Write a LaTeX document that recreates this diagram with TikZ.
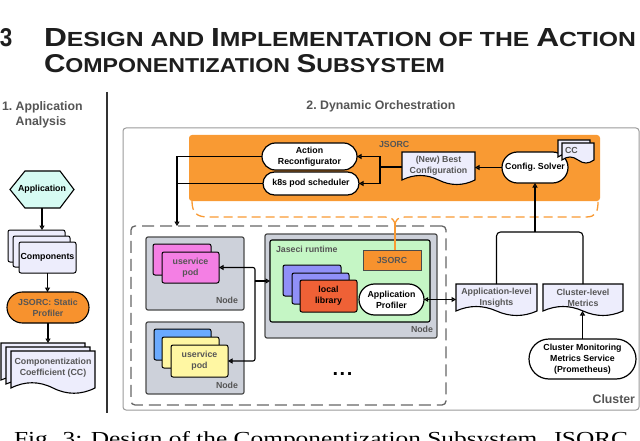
\documentclass[tikz,border=0pt]{standalone}
\usepackage{fontspec}
\setmainfont{Liberation Sans}
\newfontfamily\capfont{Liberation Serif}
\usetikzlibrary{arrows.meta,shapes.misc,calc}
\definecolor{orng}{HTML}{F99A33}
\definecolor{orng2}{HTML}{F7922E}
\definecolor{lav}{HTML}{EDEDFC}
\definecolor{hexfill}{HTML}{D6FBF3}
\definecolor{nodegray}{HTML}{CDD1DA}
\definecolor{nodeline}{HTML}{4A4A4A}
\definecolor{pinkpod}{HTML}{F47FE4}
\definecolor{bluepod}{HTML}{6AAAFF}
\definecolor{yelpod}{HTML}{FFF7A3}
\definecolor{greenrt}{HTML}{C5F6C5}
\definecolor{purplib}{HTML}{9090F8}
\definecolor{redlib}{HTML}{EF6136}
\definecolor{txtgray}{HTML}{555555}
\definecolor{clusterline}{HTML}{9A9A9A}
\definecolor{dashgray}{HTML}{666666}
\definecolor{headc}{HTML}{1E1E1E}
\newcommand\docpath[6]{%
  \path[#1] (#2,#3) -- (#4,#3) -- (#4,#5)
  .. controls ({#4-(#4-#2)/6},{#5+#6}) and ({#4-(#4-#2)/3},{#5+#6}) .. ({(#2+#4)/2},#5)
  .. controls ({#2+(#4-#2)/3},{#5-#6}) and ({#2+(#4-#2)/6},{#5-#6}) .. (#2,#5) -- cycle;}
\newcommand\bigc[1]{{\fontsize{25}{30}\selectfont #1}}
\newcommand\smlc[1]{{\fontsize{19.5}{30}\selectfont #1}}
\begin{document}
\begin{tikzpicture}[x=1pt,y=-1pt,
  every node/.style={inner sep=0pt, outer sep=0pt},
  lbl/.style={font=\bfseries\fontsize{8.8}{11}\selectfont, align=center, text=black},
  glbl/.style={lbl, text=txtgray},
  title/.style={font=\bfseries\fontsize{12.3}{15}\selectfont, text=txtgray},
  stad/.style={rounded rectangle, draw=black, line width=1.2pt, fill=white},
  docst/.style={draw=black, line width=1.1pt, fill=lav},
  stackbox/.style={draw=black, line width=1pt, rounded corners=2pt},
  nodebox/.style={draw=nodeline, fill=nodegray, line width=1.2pt, rounded corners=2pt},
  arr/.style={draw=black, line width=1.1pt, -{Triangle[open,length=4.5pt,width=5pt]}},
  conn/.style={draw=black, line width=1.1pt},
  brace/.style={draw=orng, line width=1.3pt, dash pattern=on 9pt off 5pt},
]
\useasboundingbox (0,0) rectangle (640,441);
\fill[white] (0,0) rectangle (640,441);

% heading
\node[anchor=base west, text=headc, font=\bfseries] (h3) at (0,46.5) {\resizebox{12.5pt}{18pt}{3}};
\node[anchor=base west, text=headc, font=\bfseries] (h1) at (44,46.5) {\resizebox{592pt}{18pt}{\bigc{D}\smlc{ESIGN AND }\bigc{I}\smlc{MPLEMENTATION OF THE }\bigc{A}\smlc{CTION}}};
\node[anchor=base west, text=headc, font=\bfseries] (h2) at (44,73) {\resizebox{401pt}{18pt}{\bigc{C}\smlc{OMPONENTIZATION }\bigc{S}\smlc{UBSYSTEM}}};

% caption (cut by the page edge)
\node[anchor=base west] (cap) at (14,445) {\capfont\resizebox{614pt}{14pt}{Fig. 3: Design of the Componentization Subsystem. JSORC}};

% separator
\draw[line width=1.2pt, draw=black!80] (107,92) -- (107,413);

% ---------- left column ----------
\node[title, anchor=north west, align=left] (t1) at (2,102) {1.\ Application\\\hphantom{1.\ }Analysis};

\draw[fill=hexfill, draw=black, line width=1.1pt] (10,189.5) -- (25,171) -- (60,171) -- (74,189.5) -- (60,208) -- (25,208) -- cycle;
\node[lbl, minimum width=64pt, minimum height=37pt] (app) at (42,189.5) {Application};

\node[stackbox, fill=lav, minimum width=57pt, minimum height=32pt] (compA) at (36.5,246) {};
\node[stackbox, fill=lav, minimum width=57pt, minimum height=31pt] (compB) at (41.5,251.5) {};
\node[stackbox, fill=lav, lbl, minimum width=57pt, minimum height=31pt] (compC) at (47.5,257.5) {Components};

\node[rounded rectangle, draw=black, line width=1.1pt, fill=orng2, glbl, minimum width=82pt, minimum height=31pt] (prof) at (48,307.5) {JSORC: Static\\Profiler};

\docpath{docst}{1}{343}{85}{380}{6}
\docpath{docst}{6}{347}{90}{384}{6}
\docpath{docst}{11}{351}{95}{388}{7}
\node[glbl, minimum width=84pt, minimum height=34pt] (cc) at (53,368) {Componentization\\Coefficient (CC)};
\coordinate (ccA) at (43,343);

\draw[arr] (app.south) -- (app.south |- compA.north);
\draw[arr] (compC.south) -- (compC.south |- prof.north);
\draw[arr] (prof.south) -- (prof.south |- ccA);

% ---------- right part ----------
\node[title, anchor=base] (t2) at (381,110) {2.\ Dynamic Orchestration};

\node[draw=clusterline, line width=1pt, rounded corners=3pt, fill=white, minimum width=516pt, minimum height=282pt] (cluster) at (381,269) {};
\node[title, anchor=base east] (clusterlbl) at (635,403) {Cluster};

\node[fill=orng, rounded corners=3pt, minimum width=411pt, minimum height=66pt] (jsorc) at (394.5,168) {};
\node[glbl, anchor=base west] (jsorclbl) at (379,148) {JSORC};

\node[stad, lbl, minimum width=95pt, minimum height=27pt] (ar) at (309.5,156.5) {Action\\Reconfigurator};
\node[stad, lbl, minimum width=96pt, minimum height=23pt] (k8s) at (311,183.5) {k8s pod scheduler};

\docpath{docst}{402}{152}{475}{180}{6}
\node[glbl, minimum width=73pt, minimum height=28pt] (best) at (438.5,166) {(New) Best\\Configuration};

\node[stad, lbl, minimum width=66pt, minimum height=31pt] (solver) at (535,167.5) {Config.\ Solver};
\docpath{docst}{558}{140}{590}{157}{4}
\docpath{docst}{562}{143}{594}{160}{4}
\node[glbl, anchor=north west] (ccsmall) at (565,147) {CC};

\coordinate (j1) at (380,167);
\draw[conn] (best.west |- j1) -- (j1);
\draw[arr] (j1) |- (ar.east);
\draw[arr] (j1) |- (k8s.east);
\draw[arr] (solver.west) -- (solver.west -| best.east);

% nodes area
\node[draw=dashgray, dash pattern=on 12pt off 6pt, line width=1.3pt, rounded corners=4pt, minimum width=315pt, minimum height=179pt] (nodes) at (288.5,315.5) {};

\coordinate (j2) at (177,183.5);
\draw[conn] (k8s.west) -- (j2);
\draw[arr] (ar.west) -| (j2 |- nodes.north);

% node 1
\node[nodebox, minimum width=98pt, minimum height=73pt] (node1) at (195,273.5) {};
\node[glbl, anchor=base east] (node1lbl) at (238,303.5) {Node};
\node[stackbox, fill=pinkpod, minimum width=58pt, minimum height=31pt] (pinkA) at (182,259.5) {};
\node[stackbox, fill=pinkpod, glbl, minimum width=57pt, minimum height=31pt] (pinkB) at (190.5,267.5) {uservice\\pod};

% node 2
\node[nodebox, minimum width=98pt, minimum height=72pt] (node2) at (195,358) {};
\node[glbl, anchor=base east] (node2lbl) at (238,388.5) {Node};
\node[stackbox, fill=bluepod, minimum width=57pt, minimum height=31pt] (yelA) at (182.5,344.5) {};
\node[stackbox, fill=yelpod, minimum width=57pt, minimum height=31pt] (yelB) at (190.5,352.5) {};
\node[stackbox, fill=yelpod, glbl, minimum width=57pt, minimum height=32pt] (yelC) at (199.5,361) {uservice\\pod};

% node 3
\node[nodebox, minimum width=172pt, minimum height=104pt] (node3) at (351,286) {};
\node[glbl, anchor=base east] (node3lbl) at (433,332.5) {Node};
\node[draw=black, line width=1.1pt, fill=greenrt, rounded corners=2pt, minimum width=160pt, minimum height=82pt] (jaseci) at (350,281) {};
\node[glbl, anchor=base west] (jasecilbl) at (276,252) {Jaseci runtime};
\node[draw=nodeline, line width=1pt, fill=orng2, glbl, minimum width=58pt, minimum height=20pt] (jsorcbox) at (392,260) {JSORC};
\node[stackbox, fill=purplib, minimum width=58pt, minimum height=31pt] (libA) at (312,280.5) {};
\node[stackbox, fill=purplib, minimum width=57pt, minimum height=31pt] (libB) at (320.5,288.5) {};
\node[stackbox, fill=redlib, lbl, minimum width=57pt, minimum height=32pt] (libC) at (328.5,296) {local\\library};
\node[stad, lbl, minimum width=65pt, minimum height=31pt] (appprof) at (391.5,299.5) {Application\\Profiler};

\coordinate (pj) at (255,281);
\draw[arr] (pj) -- (pj -| jaseci.west);
\draw[arr, rounded corners=2pt] (pj) |- (pinkB.east);
\draw[arr, rounded corners=2pt] (pj) |- (yelC.east);

\node[anchor=base] (dots) at (342.5,375) {\bfseries\fontsize{20}{20}\selectfont .\hspace{1.5pt}.\hspace{1.5pt}.};

% orange brace to JSORC inside runtime
\coordinate (br) at (395,226);
\coordinate (bl) at ([xshift=3pt]jsorc.south west);
\coordinate (brr) at ([xshift=-2pt]jsorc.south east);
\draw[brace] (bl) .. controls (192,213) and (197,217) .. (208,217) -- (385,217) .. controls (392,217) and (395,220) .. (br);
\draw[brace] (br) .. controls (395,220) and (398,217) .. (405,217) -- (586,217) .. controls (596,217) and (598,212) .. (brr);
\draw[draw=orng, line width=1.5pt] (br) -- (br |- jsorcbox.north);

% insights / metrics
\docpath{docst}{456}{284}{537}{311}{6}
\node[glbl, minimum width=81pt, minimum height=27pt] (ins) at (496.5,297.5) {Application-level\\Insights};
\docpath{docst}{543}{284}{623}{311}{6}
\node[glbl, minimum width=80pt, minimum height=27pt] (met) at (583,297.5) {Cluster-level\\Metrics};
\node[stad, lbl, minimum width=107pt, minimum height=40pt] (prom) at (582.5,359) {Cluster Monitoring\\Metrics Service\\(Prometheus)};

\draw[arr] (prom.north) -- (prom.north |- met.south);
\coordinate (mj) at (535,232);
\draw[conn, rounded corners=4pt] (ins.north) |- (mj) -| (met.north);
\draw[arr] (mj) -- (solver.south);
\draw[line width=1.1pt, {Triangle[open,length=4pt,width=4.5pt]}-{Triangle[open,length=4.5pt,width=5pt]}] (appprof.east) -- (appprof.east -| ins.west);
\end{tikzpicture}
\end{document}
